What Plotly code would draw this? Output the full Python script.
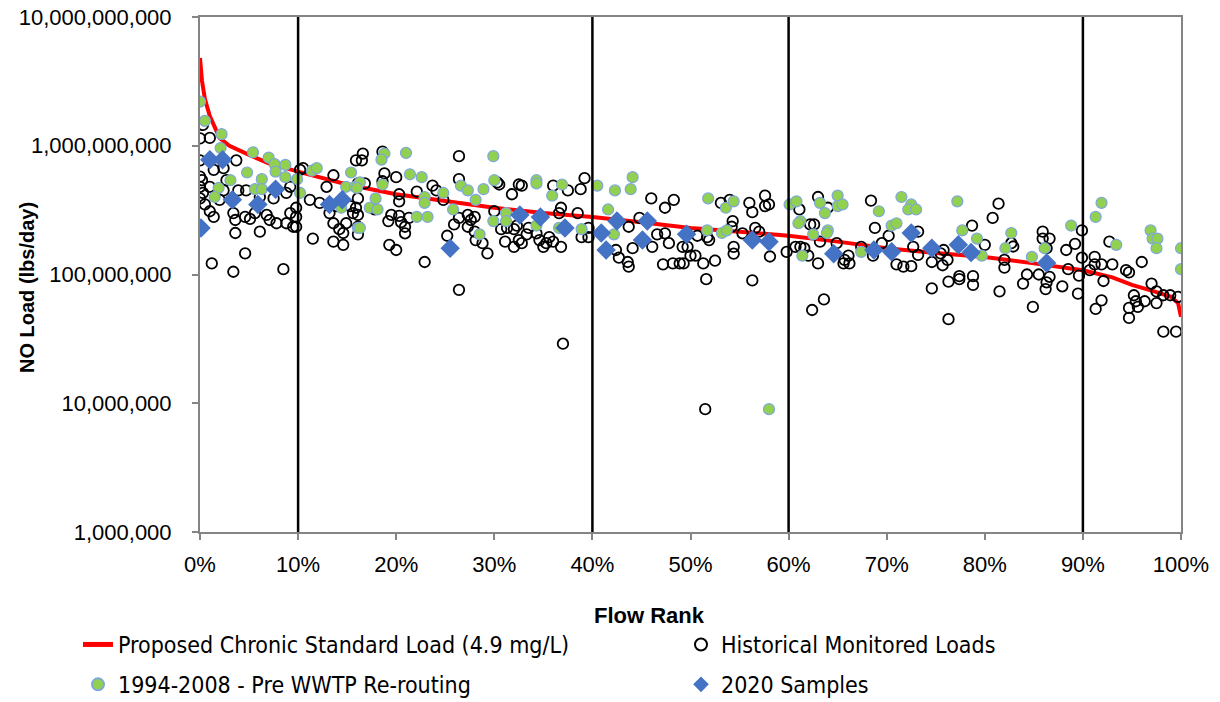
import plotly.graph_objects as go

# ---------------- data ----------------
curve_rank = [0, 0.2, 0.5, 1, 2, 3, 5, 7, 10, 15, 20, 25, 30, 35, 40, 45, 50, 55, 60,
              65, 70, 75, 80, 85, 90, 93, 95, 97, 99, 99.7, 100]
curve_load = [4.8e9, 3.2e9, 2.3e9, 1.7e9, 1.15e9, 1.0e9, 8.5e8, 7.3e8, 6.3e8, 5.0e8, 4.2e8,
              3.7e8, 3.3e8, 3.0e8, 2.8e8, 2.55e8, 2.3e8, 2.15e8, 2.0e8, 1.8e8, 1.6e8, 1.47e8,
              1.37e8, 1.22e8, 1.08e8, 9.5e7, 8.3e7, 7.5e7, 6.7e7, 6.0e7, 4.7e7]

hist_rank = [
    0, 0.3, 1.0, 0, 0, 0.2, 0, 0.3, 0, 0.5, 1.0, 1.4, 1.2, 3.4, 3.6, 3.6, 3.4, 4.6, 3.7, 1.4,
    2.4, 2.7, 2.4, 2.0, 1.0, 4.7, 3.9, 6.1, 5.6, 4.6, 5.1, 6.8, 7.1, 7.8, 6.1, 8.5, 9.2, 9.8,
    9.5, 8.8, 7.5, 8.8, 9.2, 9.8, 10.2, 10.5, 11.2, 11.5, 12.2, 12.9, 13.6, 13.2, 13.9, 13.6,
    14.2, 14.9, 13.6, 14.6, 15.9, 15.6, 15.3, 14.6, 9.8,
    16.6, 16.5, 18.6, 16.1, 16.8, 16.1, 15.9, 16.1, 16.1, 16.1, 18.8, 20.0, 18.6, 17.8, 20.3,
    20.3, 19.5, 19.2, 20.3, 20.5, 20.9, 20.9, 19.3, 20.0, 22.1, 21.3, 23.7, 24.1, 24.8, 22.9,
    25.2, 25.9, 26.4, 26.4, 26.4, 27.3, 27.6, 28.0, 27.3, 28.0, 28.1, 28.8, 29.3, 26.4, 30.3,
    30.5, 31.8, 32.5, 30.0, 30.7, 31.3, 32.0, 31.1, 32.0, 32.5, 32.3,
    32.8, 36.0, 37.5, 38.8, 39.2, 36.8, 36.6, 38.5, 33.5, 33.3, 32.8, 34.3, 34.6, 35.0, 35.3,
    35.6, 36.0, 36.8, 38.9, 39.6, 39.6, 42.4, 42.7, 43.6, 43.7, 44.1, 44.8, 43.7, 46.0, 47.4,
    48.3, 46.1, 46.6, 47.4, 47.8, 47.2, 48.2, 48.9, 49.2, 37.0,
    53.1, 54.0, 56.0, 57.6, 57.6, 58.0, 56.3, 54.3, 54.2, 50.7, 51.7, 51.9, 49.7, 50.0, 50.5,
    49.3, 51.3, 52.5, 51.6, 54.4, 54.4, 55.3, 56.6, 57.0, 58.1, 56.3, 59.8, 61.1, 60.7, 61.2,
    61.6, 62.0, 62.2, 62.6, 63.0, 64.0, 63.0, 63.2, 64.9, 65.6, 65.7, 62.4, 63.6, 51.5,
    68.4, 68.8, 70.2, 69.5, 68.6, 67.4, 66.1, 66.2, 71.0, 71.7, 72.5, 73.2, 72.7, 73.2, 74.6,
    74.6, 75.5, 75.8, 76.2, 75.7, 76.3, 77.4, 77.4, 78.8, 78.8, 76.3, 78.7, 80.0, 80.8, 81.4,
    82.0, 82.0, 81.5, 82.7,
    85.9, 85.9, 86.6, 86.3, 82.9, 84.3, 83.9, 85.5, 86.6, 86.3, 86.2, 84.9, 87.9, 88.3, 88.5,
    89.2, 89.9, 89.9, 89.6, 89.5, 90.7, 91.2, 91.2, 91.9, 92.1, 91.9, 91.3, 92.7, 93.0, 94.4,
    94.7, 96.0, 95.2, 94.7, 94.7, 95.4, 95.6, 96.3, 97.0, 97.5, 97.5, 98.2, 98.9, 99.7, 98.2,
    99.5]
hist_load = [
    1.14e9, 1.45e9, 1.15e9, 7.7e8, 5.75e8, 5.4e8, 4.8e8, 4.3e8, 3.9e8, 3.5e8, 3.1e8, 2.8e8,
    1.22e8, 1.05e8, 2.1e8, 2.65e8, 3.0e8, 1.46e8, 7.7e8, 6.5e8, 6.7e8, 5.4e8, 4.5e8, 3.8e8,
    4.8e8, 4.5e8, 4.5e8, 4.0e8, 3.0e8, 2.8e8, 2.7e8, 2.9e8, 2.65e8, 2.5e8, 2.15e8, 1.1e8,
    3.0e8, 2.8e8, 2.35e8, 2.5e8, 3.9e8, 4.3e8, 4.8e8, 3.3e8, 6.5e8, 6.7e8, 3.8e8, 1.9e8,
    3.6e8, 4.8e8, 5.9e8, 3.0e8, 3.4e8, 2.5e8, 2.25e8, 2.5e8, 1.8e8, 1.7e8, 7.7e8, 3.0e8,
    3.4e8, 2.1e8, 2.35e8,
    8.7e8, 7.7e8, 9.0e8, 5.1e8, 5.1e8, 3.9e8, 3.3e8, 2.9e8, 2.35e8, 2.05e8, 6.1e8, 5.7e8,
    5.3e8, 3.2e8, 4.2e8, 3.7e8, 2.9e8, 2.6e8, 2.85e8, 2.55e8, 2.35e8, 2.09e8, 1.7e8, 1.55e8,
    4.4e8, 2.75e8, 4.9e8, 4.5e8, 3.8e8, 1.25e8, 2.0e8, 2.45e8, 8.3e8, 5.5e8, 2.75e8, 2.9e8,
    2.65e8, 2.8e8, 2.35e8, 2.15e8, 1.85e8, 1.75e8, 1.46e8, 7.6e7, 5.2e8, 5.0e8, 4.2e8,
    5.0e8, 3.1e8, 2.25e8, 2.3e8, 2.25e8, 1.8e8, 1.64e8, 1.85e8, 2.4e8,
    4.9e8, 4.9e8, 4.5e8, 4.6e8, 5.6e8, 3.3e8, 3.0e8, 3.0e8, 2.3e8, 2.05e8, 1.75e8, 2.09e8,
    1.85e8, 1.64e8, 1.75e8, 1.95e8, 1.8e8, 1.64e8, 1.95e8, 2.3e8, 1.95e8, 1.55e8, 1.35e8,
    1.25e8, 1.15e8, 1.6e8, 2.75e8, 2.35e8, 3.9e8, 3.3e8, 3.8e8, 1.64e8, 2.05e8, 2.09e8,
    1.75e8, 1.2e8, 1.22e8, 1.22e8, 1.64e8, 2.9e7,
    3.6e8, 3.8e8, 3.6e8, 4.1e8, 3.4e8, 3.5e8, 3.05e8, 2.6e8, 2.35e8, 2.0e8, 1.95e8, 1.85e8,
    1.64e8, 1.4e8, 1.4e8, 1.22e8, 1.22e8, 1.28e8, 9.2e7, 1.64e8, 1.45e8, 2.09e8, 2.3e8,
    2.15e8, 1.38e8, 9.0e7, 1.5e8, 3.2e8, 1.64e8, 1.64e8, 1.6e8, 1.4e8, 2.45e8, 2.45e8,
    4.0e8, 3.3e8, 1.22e8, 1.8e8, 1.75e8, 1.22e8, 1.3e8, 5.3e7, 6.4e7, 9.0e6,
    3.75e8, 2.3e8, 2.0e8, 1.75e8, 1.4e8, 1.64e8, 1.4e8, 1.22e8, 1.2e8, 1.15e8, 1.16e8,
    2.15e8, 1.64e8, 1.42e8, 1.25e8, 7.8e7, 1.46e8, 1.55e8, 1.3e8, 1.18e8, 8.8e7, 9.7e7,
    9.2e7, 8.3e7, 9.7e7, 4.5e7, 2.4e8, 1.7e8, 2.75e8, 3.55e8, 1.3e8, 1.13e8, 7.4e7, 1.75e8,
    2.15e8, 1.9e8, 1.9e8, 1.6e8, 1.65e8, 1.0e8, 8.5e7, 1.0e8, 9.6e7, 8.7e7, 7.7e7, 5.6e7,
    8.1e7, 1.55e8, 1.1e8, 1.73e8, 2.2e8, 1.35e8, 9.8e7, 7.1e7, 1.08e8, 1.37e8, 1.2e8, 1.2e8,
    8.9e7, 6.3e7, 5.4e7, 1.8e8, 1.2e8, 1.08e8, 1.04e8, 1.25e8, 6.9e7, 5.5e7, 4.6e7, 6.2e7,
    5.6e7, 6.2e7, 8.5e7, 7.4e7, 6.0e7, 6.9e7, 6.9e7, 6.7e7, 3.6e7, 3.6e7]

pre_rank = [
    0.0, 0.5, 2.2, 2.1, 5.4, 7.0, 7.6, 8.7, 7.7, 8.7, 9.9, 10.2, 4.8, 6.3, 3.1, 1.9, 1.5, 5.6,
    6.3, 11.4, 11.9, 15.4, 14.9, 15.8, 14.4, 16.1,
    18.8, 18.5, 21.0, 21.4, 22.6, 16.3, 18.6, 16.0, 17.9, 17.3, 18.1, 22.9, 22.9, 22.1, 23.2,
    16.3, 24.8, 25.8, 26.6, 27.3, 28.1, 28.9, 29.9, 30.0, 29.9, 31.2, 31.2, 28.5,
    34.3, 34.3, 36.9, 35.9, 34.3, 36.6, 38.9, 40.5, 42.3, 43.9, 44.1, 41.6, 42.2,
    51.8, 53.6, 54.4, 51.7, 53.2, 53.7, 60.1, 60.8, 63.2, 63.7, 65.0, 65.0, 65.5, 61.2, 61.0,
    62.5, 64.0, 63.9, 61.4, 58.0,
    69.2, 71.5, 72.5, 72.2, 73.0, 70.5, 71.0, 67.4, 77.2, 77.7, 79.2, 79.7, 82.7, 82.1,
    84.8, 86.1, 88.8, 91.3, 91.9, 93.4, 96.9, 97.1, 97.6, 97.5, 100.0, 100.0]
pre_load = [
    2.2e9, 1.56e9, 1.23e9, 9.6e8, 8.9e8, 8.1e8, 7.2e8, 7.1e8, 6.3e8, 5.7e8, 5.5e8, 4.3e8,
    6.2e8, 5.5e8, 5.4e8, 4.7e8, 4.0e8, 4.6e8, 4.6e8, 6.4e8, 6.7e8, 6.2e8, 4.8e8, 4.8e8,
    3.3e8, 2.3e8,
    8.7e8, 7.8e8, 8.8e8, 6.0e8, 5.7e8, 5.2e8, 5.0e8, 4.7e8, 3.9e8, 3.3e8, 3.2e8, 4.0e8,
    3.6e8, 2.8e8, 2.8e8, 2.3e8, 4.3e8, 3.2e8, 4.9e8, 4.5e8, 3.8e8, 4.6e8, 8.3e8, 5.4e8,
    2.6e8, 3.0e8, 2.6e8, 2.05e8,
    5.4e8, 5.1e8, 5.0e8, 4.1e8, 2.4e8, 2.3e8, 2.25e8, 4.9e8, 4.5e8, 4.6e8, 5.7e8, 3.2e8,
    2.05e8,
    3.9e8, 3.3e8, 3.7e8, 2.2e8, 2.1e8, 2.2e8, 3.5e8, 3.7e8, 3.6e8, 3.0e8, 4.1e8, 3.4e8,
    3.5e8, 2.6e8, 2.5e8, 2.05e8, 2.2e8, 2.1e8, 1.4e8, 9.0e6,
    3.1e8, 4.0e8, 3.5e8, 3.2e8, 3.2e8, 2.4e8, 2.5e8, 1.5e8, 3.7e8, 2.2e8, 1.9e8, 1.4e8,
    2.1e8, 1.6e8,
    1.37e8, 1.6e8, 2.4e8, 2.8e8, 3.6e8, 1.7e8, 2.2e8, 1.9e8, 1.9e8, 1.6e8, 1.6e8, 1.1e8]

s2020_rank = [0.1, 1.0, 2.3, 3.3, 5.9, 7.7, 13.2, 14.5, 25.5, 32.6, 34.7, 37.2, 40.9, 41.4,
              42.5, 45.1, 45.6, 49.6, 56.3, 58.0, 64.6, 68.7, 70.5, 72.5, 74.6, 77.3, 78.6,
              86.3]
s2020_load = [2.3e8, 7.8e8, 7.8e8, 3.8e8, 3.5e8, 4.6e8, 3.5e8, 3.8e8, 1.6e8, 2.9e8, 2.8e8,
              2.3e8, 2.1e8, 1.55e8, 2.6e8, 1.85e8, 2.6e8, 2.05e8, 1.85e8, 1.8e8, 1.45e8,
              1.55e8, 1.5e8, 2.1e8, 1.6e8, 1.7e8, 1.48e8, 1.23e8]

regime_breaks = [10, 40, 60, 90]
x_ticks = [0, 10, 20, 30, 40, 50, 60, 70, 80, 90, 100]
x_tick_text = ["0%", "10%", "20%", "30%", "40%", "50%", "60%", "70%", "80%", "90%", "100%"]
y_ticks = [1e6, 1e7, 1e8, 1e9, 1e10]
y_tick_text = ["1,000,000", "10,000,000", "100,000,000", "1,000,000,000", "10,000,000,000"]

# ---------------- figure ----------------
TICK_FONT = dict(family="Liberation Sans, Arial, sans-serif", size=22, color="black")
LEG_FONT = dict(family="Liberation Sans Narrow, DejaVu Sans Condensed, Arial Narrow, sans-serif",
                size=23, color="black")
TITLE_FONT = "Liberation Sans, Arial, sans-serif"

fig = go.Figure()
fig.add_trace(go.Scatter(x=curve_rank, y=curve_load, mode="lines",
                         name="Proposed Chronic Standard Load (4.9 mg/L)",
                         legend="legend", legendgroup="a",
                         line=dict(color="#FF0000", width=4)))
fig.add_trace(go.Scatter(x=hist_rank, y=hist_load, mode="markers",
                         name="Historical Monitored Loads",
                         legend="legend2", legendgroup="b",
                         marker=dict(symbol="circle-open", size=10.5, color="black",
                                     line=dict(color="black", width=1.8))))
fig.add_trace(go.Scatter(x=pre_rank, y=pre_load, mode="markers",
                         name="1994-2008 - Pre WWTP Re-routing",
                         legend="legend", legendgroup="c",
                         marker=dict(symbol="circle", size=11, color="#92D050",
                                     line=dict(color="#7FA7D9", width=1.2))))
fig.add_trace(go.Scatter(x=s2020_rank, y=s2020_load, mode="markers",
                         name="2020 Samples",
                         legend="legend2", legendgroup="d",
                         marker=dict(symbol="diamond", size=15, color="#4472C4",
                                     line=dict(width=0))))

for b in regime_breaks:
    fig.add_shape(type="line", xref="x", yref="paper", x0=b, x1=b, y0=0, y1=1,
                  line=dict(color="black", width=2.5), layer="above")

legend_common = dict(orientation="v", xref="container", yref="container",
                     y=1 - 623 / 702, xanchor="left", yanchor="top",
                     font=LEG_FONT, itemsizing="constant", tracegroupgap=7,
                     bgcolor="rgba(0,0,0,0)", borderwidth=0)

PLOT_L, PLOT_R, PLOT_T, PLOT_B = 200, 1181, 17, 532


def px_to_paper_x(px):
    return (px - PLOT_L) / (PLOT_R - PLOT_L)


def px_to_paper_y(py):
    return (PLOT_B - py) / (PLOT_B - PLOT_T)


fig.update_layout(
    width=1220, height=702,
    margin=dict(l=PLOT_L, r=1220 - PLOT_R, t=PLOT_T, b=702 - PLOT_B, autoexpand=False),
    paper_bgcolor="white", plot_bgcolor="white",
    showlegend=True,
    legend=dict(x=78 / 1220, **legend_common),
    legend2=dict(x=681 / 1220, **legend_common),
    xaxis=dict(range=[0, 100], tickvals=x_ticks, ticktext=x_tick_text, tickfont=TICK_FONT,
               automargin=False, ticklabelstandoff=6,
               showgrid=False, zeroline=False, showline=True, linecolor="#858585",
               linewidth=2, mirror=True, ticks="outside", ticklen=6, tickcolor="#858585",
               tickwidth=1.5),
    yaxis=dict(type="log", range=[6, 10], tickvals=y_ticks, ticktext=y_tick_text,
               automargin=False, ticklabelstandoff=16,
               tickfont=TICK_FONT, showgrid=False, zeroline=False, showline=True,
               linecolor="#858585", linewidth=2, mirror=True, ticks="outside", ticklen=6,
               tickcolor="#858585", tickwidth=1.5),
    annotations=[
        dict(text="<b>Flow Rank</b>", xref="paper", yref="paper",
             x=px_to_paper_x(649), y=px_to_paper_y(615),
             xanchor="center", yanchor="middle", showarrow=False,
             font=dict(family=TITLE_FONT, size=22, color="black")),
        dict(text="<b>NO Load (lbs/day)</b>", xref="paper", yref="paper",
             x=px_to_paper_x(27), y=px_to_paper_y(288), xanchor="center", yanchor="middle",
             textangle=-90, showarrow=False,
             font=dict(family=TITLE_FONT, size=20, color="black")),
    ],
)

fig.write_html("out.html", config={"displayModeBar": False},
               post_script="document.body.style.margin='0px';"
                           "document.body.style.overflow='hidden';")
